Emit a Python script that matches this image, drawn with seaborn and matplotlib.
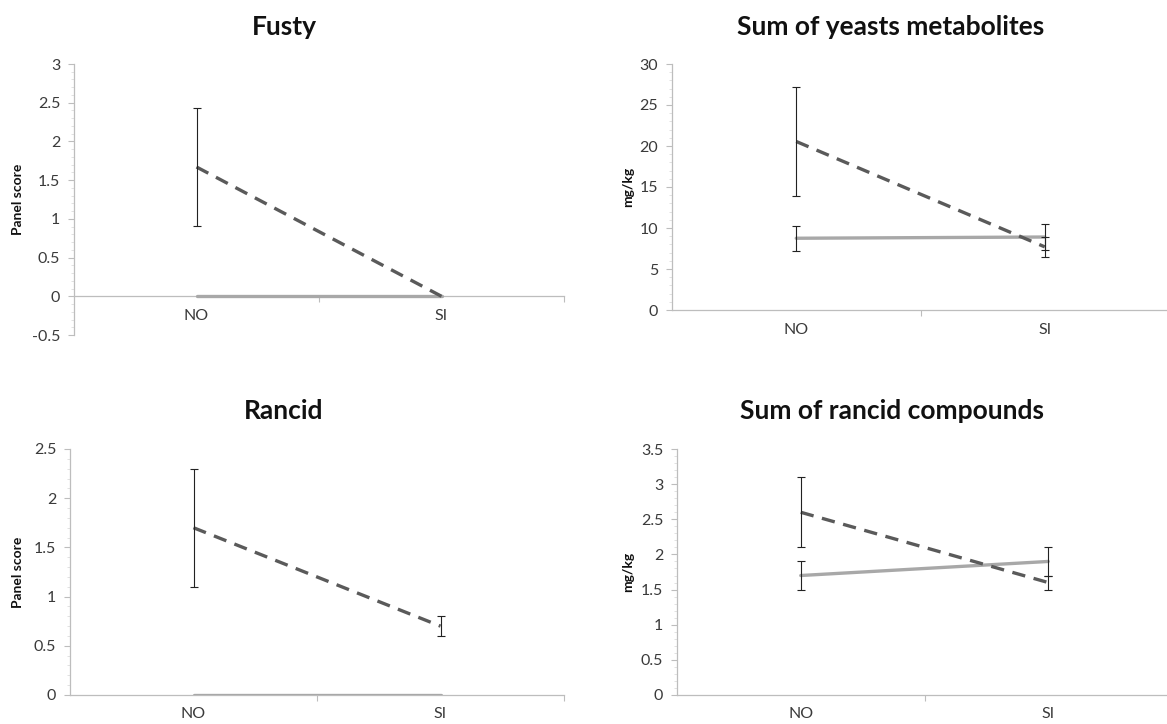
import matplotlib
matplotlib.use("Agg")
import matplotlib.pyplot as plt
from matplotlib.ticker import MultipleLocator, FixedLocator, AutoMinorLocator
import seaborn as sns
import pandas as pd

# Categories on the x axis
categories = ["NO", "SI"]

# Fusty (panel score)
fusty_dashed = [1.67, 0.0]
fusty_dashed_err = [0.76, 0.0]
fusty_solid = [0.0, 0.0]
fusty_solid_err = [0.0, 0.0]

# Sum of yeasts metabolites (mg/kg)
yeast_dashed = [20.55, 7.7]
yeast_dashed_err = [6.65, 1.2]
yeast_solid = [8.75, 8.9]
yeast_solid_err = [1.5, 1.6]

# Rancid (panel score)
rancid_dashed = [1.7, 0.7]
rancid_dashed_err = [0.6, 0.1]
rancid_solid = [0.0, 0.0]
rancid_solid_err = [0.0, 0.0]

# Sum of rancid compounds (mg/kg)
rc_dashed = [2.6, 1.6]
rc_dashed_err = [0.5, 0.1]
rc_solid = [1.7, 1.9]
rc_solid_err = [0.2, 0.2]

titles = ["Fusty", "Sum of yeasts metabolites", "Rancid", "Sum of rancid compounds"]
ylabels = ["Panel score", "mg/kg", "Panel score", "mg/kg"]

sns.set_style("white")
plt.rcParams["font.family"] = ["Lato", "DejaVu Sans"]

DARK = "#5a5a5a"
LIGHT = "#a8a8a8"
AXIS = "#bdbdbd"

fig = plt.figure(figsize=(11.67, 7.24), dpi=100)
W, H = 1167, 724

def px_axes(left, right, top, bottom):
    return fig.add_axes([left / W, 1 - bottom / H, (right - left) / W, (bottom - top) / H])

panels = [
    dict(box=(74, 564, 64, 335), ylim=(-0.5, 3), step=0.5,
         dashed=fusty_dashed, derr=fusty_dashed_err, solid=fusty_solid, serr=fusty_solid_err,
         title_xy=(284, 27), ylab_x=18),
    dict(box=(672, 1169, 64, 310), ylim=(0, 30), step=5,
         dashed=yeast_dashed, derr=yeast_dashed_err, solid=yeast_solid, serr=yeast_solid_err,
         title_xy=(891, 27), ylab_x=628),
    dict(box=(70, 564, 449, 695), ylim=(0, 2.5), step=0.5,
         dashed=rancid_dashed, derr=rancid_dashed_err, solid=rancid_solid, serr=rancid_solid_err,
         title_xy=(284, 411), ylab_x=18),
    dict(box=(677, 1172, 449, 695), ylim=(0, 3.5), step=0.5,
         dashed=rc_dashed, derr=rc_dashed_err, solid=rc_solid, serr=rc_solid_err,
         title_xy=(892, 411), ylab_x=628),
]

def fmt(v):
    return f"{v:g}"

for i, p in enumerate(panels):
    left, right, top, bottom = p["box"]
    ax = px_axes(left, right, top, bottom)
    pos = list(range(len(categories)))
    df = pd.DataFrame({
        "x": pos * 2,
        "value": list(p["solid"]) + list(p["dashed"]),
        "series": ["solid"] * len(pos) + ["dashed"] * len(pos),
    })
    sns.lineplot(data=df, x="x", y="value", hue="series", style="series",
                 palette={"solid": LIGHT, "dashed": DARK},
                 dashes={"solid": "", "dashed": (4.0, 2.6)},
                 linewidth=2.4, legend=False, ax=ax, zorder=3)
    # Error bars
    for vals, errs in ((p["dashed"], p["derr"]), (p["solid"], p["serr"])):
        xs = [x for x, e in zip(pos, errs) if e > 0]
        ys = [v for v, e in zip(vals, errs) if e > 0]
        es = [e for e in errs if e > 0]
        if xs:
            ax.errorbar(xs, ys, yerr=es, fmt="none", ecolor="#222222",
                        elinewidth=0.8, capsize=3, capthick=0.8, zorder=4)

    ax.set_xlim(-0.5, len(categories) - 0.5)
    ax.set_ylim(*p["ylim"])
    ax.yaxis.set_major_locator(MultipleLocator(p["step"]))
    ax.yaxis.set_minor_locator(AutoMinorLocator(5))
    ax.set_yticklabels([fmt(v) for v in ax.get_yticks()])
    ax.set_xticks(pos)
    ax.set_xticklabels(categories)
    ax.xaxis.set_minor_locator(FixedLocator([0.5, 1.5]))

    for s in ("top", "right"):
        ax.spines[s].set_visible(False)
    ax.spines["left"].set_color(AXIS)
    ax.spines["bottom"].set_color(AXIS)
    ax.spines["left"].set_linewidth(0.9)
    ax.spines["bottom"].set_linewidth(0.9)
    ax.spines["bottom"].set_position(("data", 0))

    ax.tick_params(axis="y", which="major", direction="out", length=4, width=0.8,
                   color=AXIS, labelsize=11.5, labelcolor="#3a3a3a", pad=6, left=True)
    ax.tick_params(axis="y", which="minor", direction="out", length=2, width=0.6,
                   color="#dddddd", left=True)
    ax.tick_params(axis="x", which="major", length=0, labelsize=11.5,
                   labelcolor="#3a3a3a", pad=9)
    ax.tick_params(axis="x", which="minor", direction="out", length=4, width=0.8,
                   color=AXIS, bottom=True)
    ax.set_xlabel("")
    ax.set_ylabel("")
    ax.grid(False)

    tx, ty = p["title_xy"]
    fig.text(tx / W, 1 - ty / H, titles[i], ha="center", va="center",
             fontsize=19, fontweight="bold", color="#111111")
    fig.text(p["ylab_x"] / W, 1 - ((top + bottom) / 2) / H, ylabels[i],
             ha="center", va="center", rotation=90, fontsize=10,
             fontweight="bold", color="#111111")

fig.savefig("out.png", dpi=100)
